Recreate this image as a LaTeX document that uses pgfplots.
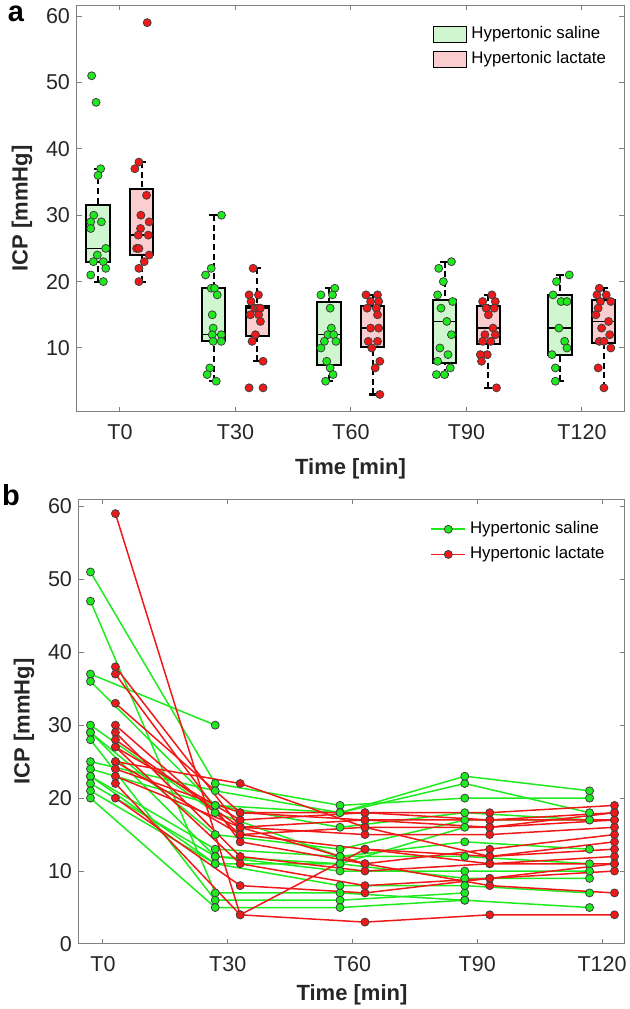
\documentclass[border=0pt]{standalone}
\usepackage{fontspec}
\setmainfont{Liberation Sans}
\usepackage{pgfplots}
\pgfplotsset{compat=1.18}
\usepgfplotslibrary{statistics}

\definecolor{lgreen}{RGB}{30,235,30}
\definecolor{lred}{RGB}{240,25,25}
\definecolor{boxgreen}{RGB}{208,246,208}
\definecolor{boxred}{RGB}{250,206,206}
\definecolor{axgray}{RGB}{128,128,128}
\definecolor{txt}{RGB}{38,38,38}

\pgfplotsset{
  matlab/.style={
    scale only axis, anchor=south west,
    axis line style={axgray, line width=0.5pt},
    tick style={axgray, line width=0.5pt},
    major tick length=2.5pt, tick align=inside,
    xtick={1,2,3,4,5}, xticklabels={T0,T30,T60,T90,T120},
    ticklabel style={font=\fontsize{10.75}{12}\selectfont, text=txt},
    xticklabel style={yshift=-2.5pt},
    /pgf/number format/assume math mode=true,
    label style={font=\fontsize{11}{13}\selectfont\bfseries, text=txt},
    xlabel={Time [min]}, ylabel={ICP [mmHg]},
    legend cell align=left,
  },
  % dashed whisker, solid cap
  boxplot/draw/lower whisker/.code={%
    \draw[dash pattern=on 3pt off 1.8pt, line width=1pt, black]
      (boxplot box cs:\pgfplotsboxplotvalue{lower whisker},0.5) --
      (boxplot box cs:\pgfplotsboxplotvalue{lower quartile},0.5);
    \draw[solid, line width=1.1pt, black]
      (boxplot whisker cs:\pgfplotsboxplotvalue{lower whisker},0) --
      (boxplot whisker cs:\pgfplotsboxplotvalue{lower whisker},1);
  },
  boxplot/draw/upper whisker/.code={%
    \draw[dash pattern=on 3pt off 1.8pt, line width=1pt, black]
      (boxplot box cs:\pgfplotsboxplotvalue{upper whisker},0.5) --
      (boxplot box cs:\pgfplotsboxplotvalue{upper quartile},0.5);
    \draw[solid, line width=1.1pt, black]
      (boxplot whisker cs:\pgfplotsboxplotvalue{upper whisker},0) --
      (boxplot whisker cs:\pgfplotsboxplotvalue{upper whisker},1);
  },
  gbox/.style={forget plot, draw=black, line width=1pt,
    boxplot/draw direction=y,
    boxplot/every box/.style={fill=boxgreen},
    boxplot/every median/.style={line width=0.7pt}},
  rbox/.style={forget plot, draw=black, line width=1pt,
    boxplot/draw direction=y,
    boxplot/every box/.style={fill=boxred},
    boxplot/every median/.style={line width=0.7pt}},
  gdots/.style={only marks, mark=*, mark size=2pt,
    mark options={fill=lgreen, draw=black!75, line width=0.4pt}},
  rdots/.style={only marks, mark=*, mark size=2pt,
    mark options={fill=lred, draw=black!75, line width=0.4pt}},
  gline/.style={color=lgreen, line width=0.75pt, mark=*, mark size=2pt,
    mark options={fill=lgreen, draw=black!75, line width=0.4pt}},
  rline/.style={color=lred, line width=0.75pt, mark=*, mark size=2pt,
    mark options={fill=lred, draw=black!75, line width=0.4pt}},
}

\begin{document}
\begin{tikzpicture}
\useasboundingbox (0,0) rectangle (314.5pt,504.5pt);

% ---------------- panel a ----------------
\begin{axis}[matlab,
  at={(38.5pt,298.5pt)}, width=273.5pt, height=203.5pt,
  xmin=0.628, xmax=5.364, ymin=0.36, ymax=61.66,
  ytick={10,20,30,40,50,60},
  xlabel style={yshift=-3pt},
  legend style={draw=none, fill=none, at={(0.64,0.968)}, anchor=north west,
    font=\fontsize{8.4}{10}\selectfont, row sep=1pt},
  legend image code/.code={\draw[#1, draw=black, line width=0.5pt] (0pt,-4pt) rectangle (16.5pt,4pt);},
]
\addplot[gbox, boxplot prepared={lower whisker=20, lower quartile=23, median=25, upper quartile=31.5, upper whisker=37, draw position=0.81, box extend=0.2, whisker extend=0.07}] coordinates {};
\addplot[rbox, boxplot prepared={lower whisker=20, lower quartile=24, median=27, upper quartile=34, upper whisker=38, draw position=1.19, box extend=0.2, whisker extend=0.07}] coordinates {};
\addplot[gbox, boxplot prepared={lower whisker=5, lower quartile=11, median=12, upper quartile=19, upper whisker=30, draw position=1.81, box extend=0.2, whisker extend=0.07}] coordinates {};
\addplot[rbox, boxplot prepared={lower whisker=8, lower quartile=11.8, median=16, upper quartile=16.3, upper whisker=22, draw position=2.19, box extend=0.2, whisker extend=0.07}] coordinates {};
\addplot[gbox, boxplot prepared={lower whisker=5, lower quartile=7.5, median=12, upper quartile=17, upper whisker=19, draw position=2.81, box extend=0.2, whisker extend=0.07}] coordinates {};
\addplot[rbox, boxplot prepared={lower whisker=3, lower quartile=10.2, median=13, upper quartile=16.3, upper whisker=18, draw position=3.19, box extend=0.2, whisker extend=0.07}] coordinates {};
\addplot[gbox, boxplot prepared={lower whisker=6, lower quartile=7.8, median=14, upper quartile=17.3, upper whisker=23, draw position=3.81, box extend=0.2, whisker extend=0.07}] coordinates {};
\addplot[rbox, boxplot prepared={lower whisker=4, lower quartile=10.6, median=13, upper quartile=16.3, upper whisker=18, draw position=4.19, box extend=0.2, whisker extend=0.07}] coordinates {};
\addplot[gbox, boxplot prepared={lower whisker=5, lower quartile=9, median=13, upper quartile=18, upper whisker=21, draw position=4.81, box extend=0.2, whisker extend=0.07}] coordinates {};
\addplot[rbox, boxplot prepared={lower whisker=4, lower quartile=10.8, median=14, upper quartile=17.3, upper whisker=19, draw position=5.19, box extend=0.2, whisker extend=0.07}] coordinates {};

% hypertonic saline, jittered
\addplot[gdots, forget plot] table {
x y
0.755 51
0.793 47
0.833 37
0.810 36
0.773 30
0.747 29
0.839 29
0.747 28
0.877 25
0.804 24
0.770 23
0.856 23
0.877 22
0.747 21
0.856 20
1.879 30
1.790 22
1.741 21
1.790 19
1.819 19
1.842 18
1.799 15
1.807 13
1.799 12
1.877 12
1.807 11
1.877 11
1.778 7
1.755 6
1.833 5
2.86 19
2.74 18
2.84 18
2.82 16
2.83 13
2.80 12
2.85 12
2.77 11
2.87 11
2.74 10
2.79 8
2.82 7
2.845 6
2.78 5
3.87 23
3.76 22
3.80 20
3.75 18
3.88 17
3.78 16
3.83 14
3.87 12
3.77 10
3.84 9
3.75 8
3.86 7
3.74 6
3.81 6
4.89 21
4.78 20
4.75 18
4.82 17
4.87 17
4.80 13
4.85 11
4.87 10
4.74 9
4.77 7
4.77 5
};
% hypertonic lactate, jittered
\addplot[rdots, forget plot] table {
x y
1.236 59
1.164 38
1.129 37
1.230 33
1.181 30
1.253 29
1.178 28
1.245 27
1.158 27
1.144 25
1.164 25
1.253 24
1.210 23
1.164 22
1.164 20
2.153 22
2.118 18
2.199 18
2.135 17
2.167 16
2.193 16
2.216 16
2.129 15
2.201 15
2.216 14
2.173 12
2.144 11
2.239 8
2.118 4
2.239 4
3.13 18
3.23 18
3.17 17
3.24 17
3.14 16
3.22 16
3.23 15
3.17 13
3.24 13
3.15 11
3.23 11
3.18 10
3.25 8
3.21 7
3.25 3
4.22 18
4.14 17
4.25 17
4.17 16
4.24 16
4.19 15
4.23 13
4.16 12
4.25 12
4.14 11
4.21 11
4.18 9
4.12 9
4.13 8
4.26 4
5.15 19
5.21 18
5.13 18
5.16 17
5.25 17
5.14 16
5.12 15
5.23 14
5.17 13
5.24 12
5.15 11
5.19 11
5.25 10
5.14 7
5.19 4
};
\addlegendimage{fill=boxgreen}
\addlegendentry{Hypertonic saline}
\addlegendimage{fill=boxred}
\addlegendentry{Hypertonic lactate}
\end{axis}
\node[font=\fontsize{14.5}{16}\selectfont\bfseries, text=black] at (8pt,497.5pt) {a};

% ---------------- panel b ----------------
\begin{axis}[matlab,
  at={(39.5pt,32.5pt)}, width=273pt, height=222.5pt,
  xmin=0.808, xmax=5.184, ymin=0, ymax=61,
  ytick={0,10,20,30,40,50,60},
  xlabel style={yshift=0pt},
  legend style={draw=none, fill=none, at={(0.632,0.968)}, anchor=north west,
    font=\fontsize{8.4}{10}\selectfont, row sep=1pt},
]
\addlegendimage{gline}
\addlegendentry{Hypertonic saline}
\addlegendimage{rline}
\addlegendentry{Hypertonic lactate}
% one line per patient, hypertonic saline
\addplot[gline] coordinates {(0.9,51) (1.9,22) (2.9,19) (3.9,20) (4.9,20)};
\addplot[gline] coordinates {(0.9,47) (1.9,7) (2.9,7) (3.9,6) (4.9,5)};
\addplot[gline] coordinates {(0.9,37) (1.9,30)};
\addplot[gline] coordinates {(0.9,36) (1.9,19) (2.9,18) (3.9,22) (4.9,18)};
\addplot[gline] coordinates {(0.9,30) (1.9,18) (2.9,12) (3.9,14) (4.9,13)};
\addplot[gline] coordinates {(0.9,29) (1.9,15) (2.9,13) (3.9,17) (4.9,17)};
\addplot[gline] coordinates {(0.9,29) (1.9,12) (2.9,11) (3.9,16)};
\addplot[gline] coordinates {(0.9,28) (1.9,6) (2.9,6) (3.9,7)};
\addplot[gline] coordinates {(0.9,25) (1.9,21) (2.9,18) (3.9,23) (4.9,21)};
\addplot[gline] coordinates {(0.9,24) (1.9,19) (2.9,16) (3.9,18) (4.9,17)};
\addplot[gline] coordinates {(0.9,23) (1.9,13) (2.9,12) (3.9,12) (4.9,11)};
\addplot[gline] coordinates {(0.9,23) (1.9,11) (2.9,11) (3.9,9) (4.9,9)};
\addplot[gline] coordinates {(0.9,22) (1.9,12) (2.9,10) (3.9,10) (4.9,10)};
\addplot[gline] coordinates {(0.9,21) (1.9,11) (2.9,8) (3.9,8) (4.9,7)};
\addplot[gline] coordinates {(0.9,20) (1.9,5) (2.9,5) (3.9,6)};
% hypertonic lactate
\addplot[rline] coordinates {(1.1,59) (2.1,4) (3.1,13) (4.1,12) (5.1,14)};
\addplot[rline] coordinates {(1.1,38) (2.1,16) (3.1,17) (4.1,17) (5.1,18)};
\addplot[rline] coordinates {(1.1,37) (2.1,14) (3.1,11) (4.1,13) (5.1,15)};
\addplot[rline] coordinates {(1.1,33) (2.1,18) (3.1,18) (4.1,18) (5.1,19)};
\addplot[rline] coordinates {(1.1,30) (2.1,15) (3.1,16) (4.1,16) (5.1,17)};
\addplot[rline] coordinates {(1.1,29) (2.1,12) (3.1,10) (4.1,11) (5.1,12)};
\addplot[rline] coordinates {(1.1,28) (2.1,16) (3.1,15) (4.1,15) (5.1,16)};
\addplot[rline] coordinates {(1.1,27) (2.1,17) (3.1,18) (4.1,17) (5.1,17)};
\addplot[rline] coordinates {(1.1,27) (2.1,11) (3.1,8) (4.1,9) (5.1,10)};
\addplot[rline] coordinates {(1.1,25) (2.1,22) (3.1,16) (4.1,12) (5.1,13)};
\addplot[rline] coordinates {(1.1,25) (2.1,15) (3.1,13) (4.1,11) (5.1,11)};
\addplot[rline] coordinates {(1.1,24) (2.1,18) (3.1,17) (4.1,16) (5.1,18)};
\addplot[rline] coordinates {(1.1,23) (2.1,16) (3.1,11) (4.1,8) (5.1,7)};
\addplot[rline] coordinates {(1.1,22) (2.1,4) (3.1,3) (4.1,4) (5.1,4)};
\addplot[rline] coordinates {(1.1,20) (2.1,8) (3.1,7) (4.1,9) (5.1,11)};
\end{axis}
\node[font=\fontsize{14.5}{16}\selectfont\bfseries, text=black] at (5.5pt,257pt) {b};
\end{tikzpicture}
\end{document}
